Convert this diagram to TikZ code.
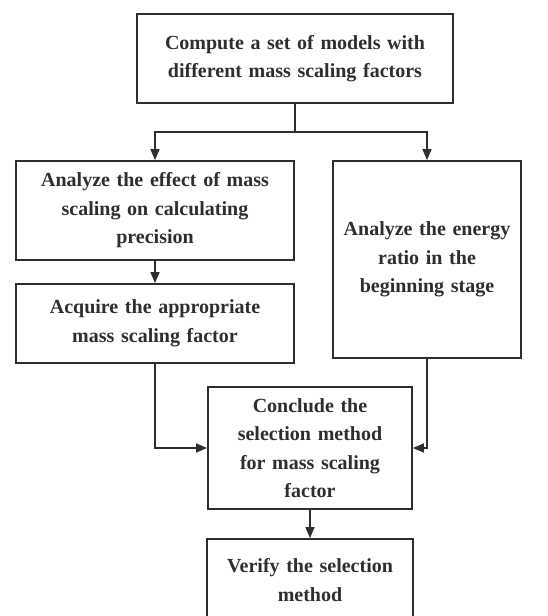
\documentclass[tikz,border=0pt]{standalone}
\usepackage{fontspec}
\setmainfont{Liberation Serif}
\usetikzlibrary{arrows.meta, positioning, calc}

\definecolor{inkgray}{HTML}{2E2E2E}
\tikzset{
  stepbox/.style={draw=inkgray, line width=1.8pt, inner sep=0pt, align=center,
    text=inkgray, font=\bfseries\fontsize{20}{28.5}\selectfont},
  flow/.style={draw=inkgray, line width=1.5pt, -{Triangle[length=11pt,width=9pt]}}
}

\begin{document}
\begin{tikzpicture}[x=1pt, y=1pt]
\useasboundingbox (0,0) rectangle (548,616);
\clip (0,0) rectangle (548,616);
% Process boxes
\node[stepbox, text width=316pt, minimum height=89pt] (models) at (295,557.5)
  {Compute a set of models with\\different mass scaling factors};
\node[stepbox, text width=278pt, minimum height=99pt] (effect) at (155,405.5)
  {Analyze the effect of mass\\scaling on calculating\\precision};
\node[stepbox, text width=278pt, minimum height=79pt] (factor) at (155,292.5)
  {Acquire the appropriate\\mass scaling factor};
\node[stepbox, text width=188pt, minimum height=197pt] (energy) at (427,356.5)
  {Analyze the energy\\ratio in the\\beginning stage};
\node[stepbox, text width=204pt, minimum height=122pt] (conclude) at (310,168)
  {Conclude the\\selection method\\for mass scaling\\factor};
\node[stepbox, text width=206pt, minimum height=82pt] (verify) at (310,36)
  {Verify the selection\\method};

% Connectors
\coordinate (split) at (295,484);
\draw[draw=inkgray, line width=1.5pt] (models.south) -- (split);
\draw[flow] (split) -| (effect.north);
\draw[flow] (split) -| (energy.north);
\draw[flow] (effect.south) -- (factor.north);
\draw[flow] (factor.south) |- (conclude.west);
\draw[flow] (energy.south) |- (conclude.east);
\draw[flow] (conclude.south) -- (verify.north);
\end{tikzpicture}
\end{document}
